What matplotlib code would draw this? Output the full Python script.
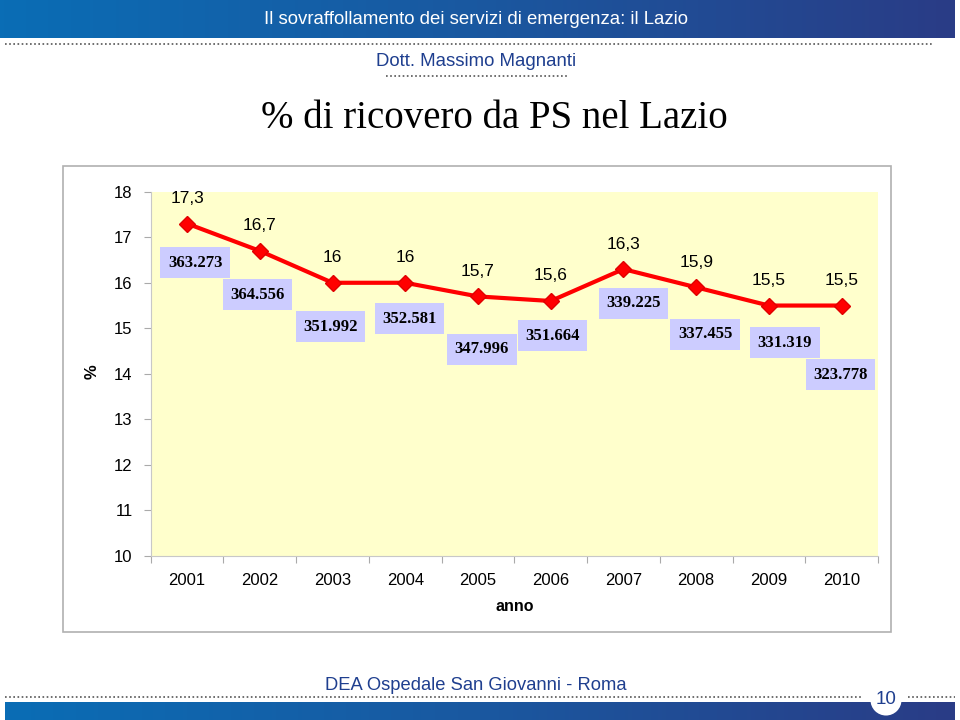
import matplotlib
matplotlib.use("Agg")
import matplotlib.pyplot as plt
import numpy as np
from matplotlib.lines import Line2D
from matplotlib.patches import Rectangle, Circle
from matplotlib.colors import LinearSegmentedColormap

# ---- data ----
years = ['2001', '2002', '2003', '2004', '2005', '2006', '2007', '2008', '2009', '2010']
ricovero_pct = [17.3, 16.7, 16.0, 16.0, 15.7, 15.6, 16.3, 15.9, 15.5, 15.5]
ricovero_labels = ['17,3', '16,7', '16', '16', '15,7', '15,6', '16,3', '15,9', '15,5', '15,5']
accessi_labels = ['363.273', '364.556', '351.992', '352.581', '347.996',
                  '351.664', '339.225', '337.455', '331.319', '323.778']
y_ticks = [10, 11, 12, 13, 14, 15, 16, 17, 18]

# ---- layout (label offsets in pixels) ----
box_offsets = [(8, -39), (-2, -44), (-2, -44), (4, -36), (4, -53),
               (2, -35), (10, -34), (9, -47), (16, -37), (-1, -69)]

W, H = 960, 720
fig = plt.figure(figsize=(W / 100, H / 100), dpi=100)
fig.patch.set_facecolor('white')

def fx(px):
    return px / W

def fy(py):
    return 1 - py / H

SANS = ['Liberation Sans', 'DejaVu Sans']
SERIF = ['Liberation Serif', 'DejaVu Serif']

# header gradient bar
hdr = fig.add_axes([0, fy(38), fx(955), 38 / H])
grad = np.linspace(0, 1, 256).reshape(1, -1)
cmap = LinearSegmentedColormap.from_list('hb', ['#0A6DB5', '#1A58A0', '#2A3C86'])
hdr.imshow(grad, aspect='auto', cmap=cmap, extent=[0, 1, 0, 1])
hdr.axis('off')
fig.text(fx(476), fy(20), 'Il sovraffollamento dei servizi di emergenza: il Lazio',
         ha='center', va='center', color='white', fontsize=13.4, family=SANS)

# dotted lines header
fig.add_artist(Line2D([fx(5), fx(932)], [fy(44), fy(44)], ls=(0, (1, 1.5)),
                      color='#555555', lw=1.2))
fig.text(fx(476), fy(62), 'Dott. Massimo Magnanti', ha='center', va='center',
         color='#1F3F8F', fontsize=13.4, family=SANS)
fig.add_artist(Line2D([fx(386), fx(568)], [fy(76), fy(76)], ls=(0, (1, 1.5)),
                      color='#555555', lw=1.2))

# title
fig.text(fx(494), fy(119), '% di ricovero da PS nel Lazio', ha='center', va='center',
         fontsize=28, family=SERIF, color='black')

# chart frame
fig.add_artist(Rectangle((fx(63), fy(632)), fx(891) - fx(63), fy(166) - fy(632),
                         transform=fig.transFigure, fill=False, ec='#B0B0B0', lw=1.2))

# main axes
ax = fig.add_axes([fx(150.7), fy(556), fx(878) - fx(150.7), fy(191.7) - fy(556)])
ax.set_facecolor('#FFFFCC')
x = np.arange(len(years))
ax.plot(x, ricovero_pct, color='#FF0000', lw=3, marker='D', ms=8,
        mfc='#FF0000', mec='#E00000', zorder=3)
ax.set_xlim(-0.5, len(years) - 0.5)
ax.set_ylim(10, 18)
ax.set_yticks(y_ticks)
ax.set_yticklabels([str(t) for t in y_ticks], fontsize=12, family=SANS)
ax.set_xticks(np.arange(-0.5, len(years), 1.0))
ax.set_xticklabels([])
ax.set_xticks(x, minor=True)
ax.set_xticklabels(years, minor=True, fontsize=12, family=SANS)
ax.tick_params(axis='x', which='minor', length=0, pad=12)
ax.tick_params(axis='x', which='major', length=5, color='#AAAAAA')
ax.tick_params(axis='y', length=5, color='#AAAAAA', pad=8)
for s in ['top', 'right']:
    ax.spines[s].set_visible(False)
for s in ['left', 'bottom']:
    ax.spines[s].set_color('#C8C8C8')
    ax.spines[s].set_linewidth(0.8)
ax.set_xlabel('anno', fontsize=11.5, fontweight='bold', family=SANS, labelpad=8)
ax.set_ylabel('%', fontsize=12, fontweight='bold', family=SANS, va='center')
ax.yaxis.set_label_coords(-0.081, 0.505)

for i in range(len(years)):
    ax.annotate(ricovero_labels[i], (x[i], ricovero_pct[i]), xytext=(0, 25),
                textcoords='offset pixels', ha='center', va='center',
                fontsize=12.5, family=SANS, zorder=4)
    dx, dy = box_offsets[i]
    ax.annotate(accessi_labels[i], (x[i], ricovero_pct[i]), xytext=(dx, dy),
                textcoords='offset pixels', ha='center', va='center',
                fontsize=12, fontweight='bold', family=SERIF, zorder=5,
                bbox=dict(boxstyle='square,pad=0.45', fc='#CCCCFF', ec='none'))

# footer
fig.text(fx(476), fy(685), 'DEA Ospedale San Giovanni - Roma', ha='center', va='center',
         color='#1F3F8F', fontsize=13.2, family=SANS)
fig.add_artist(Line2D([fx(5), fx(862)], [fy(697), fy(697)], ls=(0, (1, 1.5)),
                      color='#555555', lw=1.2))
fig.add_artist(Line2D([fx(908), fx(955)], [fy(697), fy(697)], ls=(0, (1, 1.5)),
                      color='#555555', lw=1.2))
ftr = fig.add_axes([fx(5), 0, fx(955) - fx(5), 18 / H])
ftr.imshow(grad, aspect='auto', cmap=cmap, extent=[0, 1, 0, 1])
ftr.axis('off')
circ_ax = fig.add_axes([fx(870), fy(716), 32 / W, 32 / H])
circ_ax.set_xlim(-1, 1)
circ_ax.set_ylim(-1, 1)
circ_ax.add_patch(Circle((0, 0), 0.97, fc='white', ec='none'))
circ_ax.text(0, 0, '10', ha='center', va='center', fontsize=13.5, color='#1F3F8F',
             family=SANS)
circ_ax.axis('off')

fig.savefig('out.png', dpi=100)
